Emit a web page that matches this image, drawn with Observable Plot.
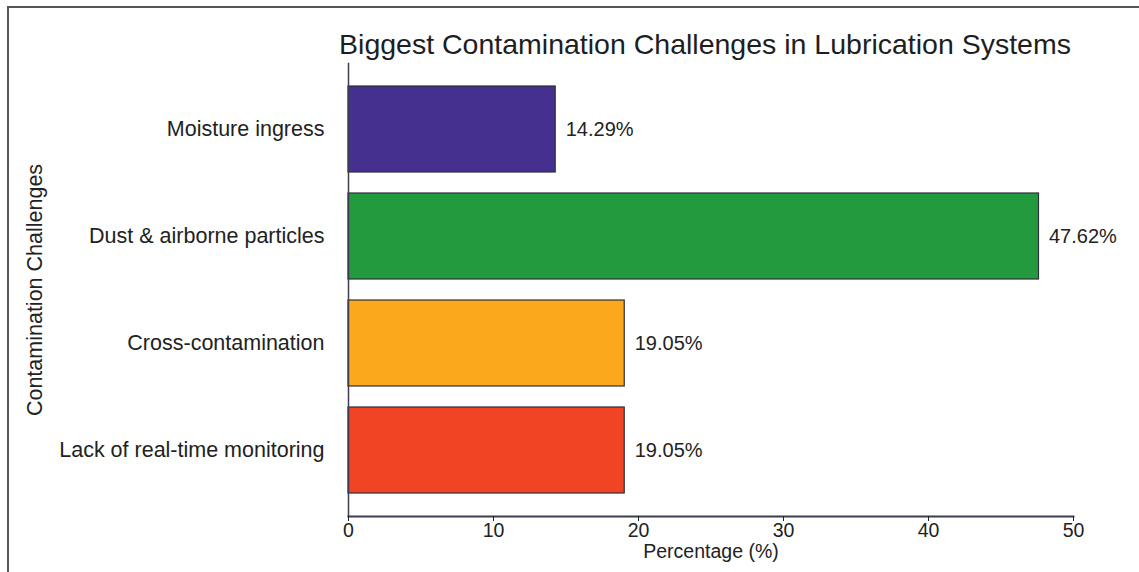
<!DOCTYPE html>
<html>
<head>
<meta charset="utf-8">
<script src="https://cdn.jsdelivr.net/npm/d3@7"></script>
<script src="https://cdn.jsdelivr.net/npm/@observablehq/plot@0.6"></script>
<style>
  html, body { margin: 0; padding: 0; background: #ffffff; }
  #wrap { position: relative; width: 1139px; height: 572px; overflow: hidden;
          font-family: "Liberation Sans", Arial, Helvetica, sans-serif; }
  #frame { position: absolute; left: 7px; top: 6px; width: 1140px; height: 600px;
           border-top: 2px solid #555; border-left: 2px solid #555; box-sizing: border-box; }
  #title { position: absolute; left: 305px; top: 28px; width: 800px; text-align: center;
           font-size: 28.5px; color: #1e1e1e; white-space: nowrap; }
  #chart { position: absolute; left: 0; top: 0; }
</style>
</head>
<body>
<div id="wrap">
  <div id="frame"></div>
  <div id="chart"></div>
  <div id="title">Biggest Contamination Challenges in Lubrication Systems</div>
</div>
<script>
// Survey results: share of respondents naming each contamination challenge
const categories = ["Moisture ingress", "Dust & airborne particles", "Cross-contamination", "Lack of real-time monitoring"];
const percentages = [14.29, 47.62, 19.05, 19.05];
const barColors = ["#452f8f", "#249a3e", "#fca81c", "#f04424"];
const xTicks = [0, 10, 20, 30, 40, 50];

const rows = categories.map((c, i) => ({category: c, value: percentages[i], color: barColors[i]}));

const chart = Plot.plot({
  width: 1139,
  height: 572,
  marginTop: 63,
  marginBottom: 56,
  marginLeft: 348,
  marginRight: 66,
  style: {fontFamily: "'Liberation Sans', Arial, Helvetica, sans-serif", color: "#222", background: "transparent"},
  x: {domain: [0, 50]},
  y: {domain: categories, paddingInner: 0.2, paddingOuter: 0.2},
  marks: [
    Plot.barX(rows, {x: "value", y: "category", fill: "color", stroke: "#2e2e3a", strokeWidth: 1.2}),
    Plot.text(rows, {x: "value", y: "category", text: d => d.value.toFixed(2) + "%",
      textAnchor: "start", dx: 10, fontSize: 20, fill: "#222"}),
    Plot.frame({anchor: "left", stroke: "#3d3d4f", strokeWidth: 1.5}),
    Plot.frame({anchor: "bottom", stroke: "#3d3d4f", strokeWidth: 2}),
    Plot.axisX({ticks: xTicks, tickSize: 5, tickPadding: 2, fontSize: 19.5,
      label: "Percentage (%)", labelAnchor: "center", labelArrow: "none", labelOffset: 41}),
    Plot.axisY({tickSize: 0, tickPadding: 24, fontSize: 21.5,
      label: "Contamination Challenges", labelAnchor: "center", labelArrow: "none", labelOffset: 322})
  ]
});

document.getElementById("chart").appendChild(chart);
</script>
</body>
</html>
